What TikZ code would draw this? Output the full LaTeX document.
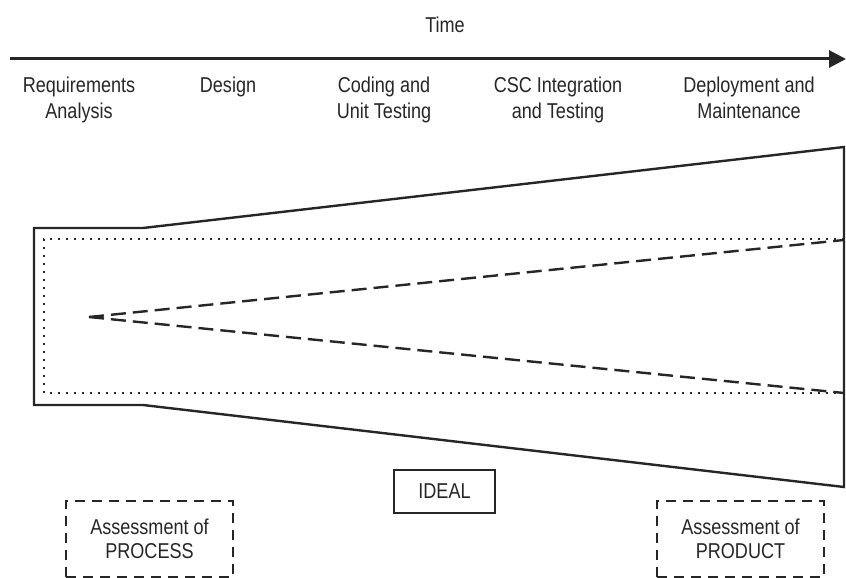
\documentclass[tikz,border=0pt]{standalone}
\usepackage{fontspec}
\setmainfont[FakeStretch=0.84]{Liberation Sans}
\usetikzlibrary{arrows.meta}
\tikzset{
  lbl/.style={align=center, font=\fontsize{21.5}{26}\selectfont, inner sep=0pt, text=black!85},
  solidline/.style={line width=2.4pt, black!85, line join=miter},
  dotline/.style={line width=1.9pt, black!85, dash pattern=on 1.9pt off 6.1pt},
  dashline/.style={line width=2.4pt, black!85, dash pattern=on 15pt off 7pt},
  assessbox/.style={draw=black!85, line width=2pt, dash pattern=on 10pt off 7pt, minimum width=167pt, minimum height=76pt, inner sep=0pt, align=center, font=\fontsize{21.5}{24}\selectfont, text=black!85},
  idealbox/.style={draw=black!85, line width=2pt, minimum width=101pt, minimum height=43pt, inner sep=0pt, font=\fontsize{21.5}{24}\selectfont, text=black!85}
}
\begin{document}
\begin{tikzpicture}[x=1pt,y=-1pt]
\useasboundingbox (0,0) rectangle (846,578);
% time axis
\coordinate (tstart) at (10,59);
\coordinate (tend) at (846,59);
\draw[line width=3pt, black!85, -{Triangle[length=17pt,width=17pt]}] (tstart) -- (tend);
\node[lbl] (time) at (445,27) {\strut Time};
% phases
\node[lbl] (req) at (79,100) {\strut Requirements\\\strut Analysis};
\node[lbl] (des) at (228,87) {\strut Design};
\node[lbl] (cod) at (384,100) {\strut Coding and\\\strut Unit Testing};
\node[lbl] (csc) at (558,100) {\strut CSC Integration\\\strut and Testing};
\node[lbl] (dep) at (749,100) {\strut Deployment and\\\strut Maintenance};
% main shape
\coordinate (a1) at (34,228);
\coordinate (a2) at (143,228);
\coordinate (a3) at (844,147);
\coordinate (a4) at (844,487);
\coordinate (a5) at (143,405);
\coordinate (a6) at (34,405);
\draw[solidline] (a1) -- (a2) -- (a3) -- (a4) -- (a5) -- (a6) -- cycle;
% dotted inner rectangle
\coordinate (d1) at (844,239);
\coordinate (d2) at (44,239);
\coordinate (d3) at (44,393);
\coordinate (d4) at (844,393);
\draw[dotline] (d1) -- (d2) -- (d3) -- (d4);
% dashed cone
\coordinate (apex) at (89,317);
\coordinate (c1) at (844,240);
\coordinate (c2) at (844,393);
\draw[dashline] (apex) -- (c1);
\draw[dashline] (apex) -- (c2);
% boxes
\node[idealbox] (ideal) at (444.5,491.5) {IDEAL};
\node[assessbox] (proc) at (149.5,538.5) {Assessment of\\PROCESS};
\node[assessbox] (prod) at (740.5,538.5) {Assessment of\\PRODUCT};
\end{tikzpicture}
\end{document}
